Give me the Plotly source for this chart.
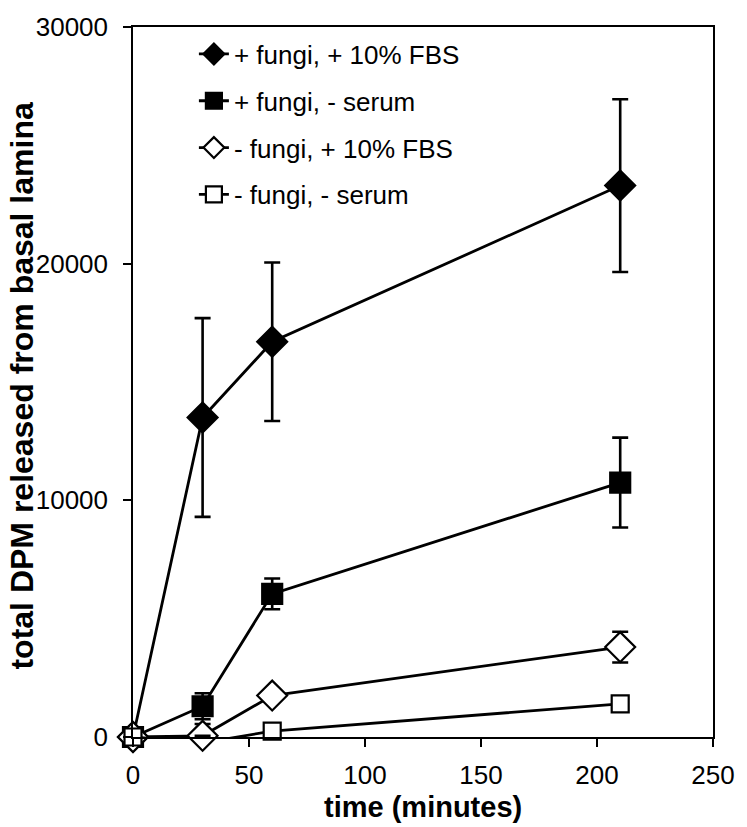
import plotly.graph_objects as go

# Time points (minutes)
time_min = [0, 30, 60, 210]

# Total DPM released from basal lamina, with error bar half-widths
fungi_fbs = [0, 13500, 16700, 23300]
fungi_fbs_err = [0, 4200, 3350, 3650]

fungi_noserum = [0, 1300, 6050, 10750]
fungi_noserum_err = [0, 550, 650, 1900]

nofungi_fbs = [0, 50, 1750, 3800]
nofungi_fbs_err = [0, 500, 150, 650]

nofungi_noserum = [0, -250, 250, 1400]
nofungi_noserum_err = [0, 300, 150, 200]

series_names = ["+ fungi, + 10% FBS", "+ fungi, - serum",
                "- fungi, + 10% FBS", "- fungi, - serum"]

x_ticks = [0, 50, 100, 150, 200, 250]
y_ticks = [0, 10000, 20000, 30000]
y_tick_labels = ["0", "10000", "20000", "30000"]

FONT = "Liberation Sans, Arial, sans-serif"

styles = [
    dict(symbol="diamond", size=23, color="black"),
    dict(symbol="square", size=20, color="black"),
    dict(symbol="diamond", size=23, color="white"),
    dict(symbol="square", size=17, color="white"),
]
data = [
    (fungi_fbs, fungi_fbs_err),
    (fungi_noserum, fungi_noserum_err),
    (nofungi_fbs, nofungi_fbs_err),
    (nofungi_noserum, nofungi_noserum_err),
]

fig = go.Figure()
for i, ((vals, errs), st, name) in enumerate(zip(data, styles, series_names)):
    fig.add_trace(go.Scatter(
        x=time_min, y=vals, name=name, mode="lines+markers",
        legendgroup=f"g{i}", cliponaxis=False,
        line=dict(color="black", width=2.8),
        marker=dict(symbol=st["symbol"], size=st["size"], color=st["color"],
                    line=dict(color="black", width=2.2)),
        error_y=dict(type="data", array=errs, visible=True,
                     color="black", thickness=2.6, width=8),
    ))

fig.update_layout(
    width=747, height=827,
    margin=dict(l=133, r=25, t=25, b=90),
    paper_bgcolor="white", plot_bgcolor="white",
    font=dict(family=FONT, color="black"),
    showlegend=True,
    legend=dict(x=0.105, y=0.995, xanchor="left", yanchor="top",
                bgcolor="rgba(0,0,0,0)", borderwidth=0,
                font=dict(family=FONT, size=26, color="black"),
                tracegroupgap=10),
    xaxis=dict(range=[0, 250], tickvals=x_ticks, ticks="outside",
               ticklen=8, tickwidth=1.5, tickcolor="black",
               ticklabelstandoff=6,
               showline=True, linecolor="black", linewidth=1.5, mirror=True,
               showgrid=False, zeroline=False,
               tickfont=dict(family=FONT, size=26, color="black")),
    yaxis=dict(range=[0, 30000], tickvals=y_ticks, ticktext=y_tick_labels,
               ticks="outside",
               ticklen=8, tickwidth=1.5, tickcolor="black",
               ticklabelstandoff=10,
               showline=True, linecolor="black", linewidth=1.5, mirror=True,
               showgrid=False, zeroline=False,
               tickfont=dict(family=FONT, size=26, color="black")),
    annotations=[
        dict(text="<b>time (minutes)</b>", xref="paper", yref="paper",
             x=0.5, y=0, yshift=-70, xanchor="center", yanchor="middle",
             showarrow=False, font=dict(family=FONT, size=29, color="black")),
        dict(text="<b>total DPM released from basal lamina</b>",
             xref="paper", yref="paper", x=0, xshift=-111, y=0.495,
             xanchor="center", yanchor="middle", textangle=-90,
             showarrow=False, font=dict(family=FONT, size=32, color="black")),
    ],
)

fig.write_html("out.html")
